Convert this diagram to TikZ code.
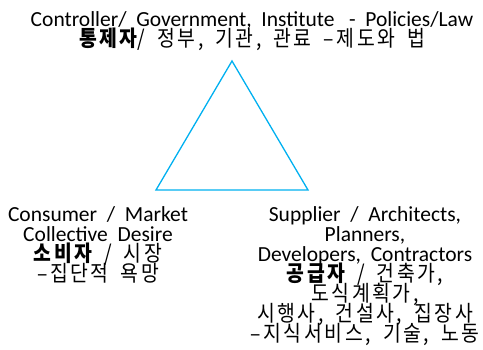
\documentclass[tikz,border=0pt]{standalone}
\usepackage{fontspec}
\setmainfont{Carlito}
\newfontfamily\kr[FakeStretch=0.88, LetterSpace=12, WordSpace=1.7]{Noto Sans CJK KR}
\definecolor{tricol}{RGB}{0,176,240}
\newcommand{\krline}{\kr\fontsize{22}{20}\selectfont}
\tikzset{
  lbl/.style={align=center, inner sep=0pt, anchor=north,
    font={\fontsize{21.5}{20}\selectfont\lineskiplimit=-30pt}},
  tri/.style={draw=tricol, line width=1.3pt, line join=miter}
}
\begin{document}
\begin{tikzpicture}[x=1pt,y=-1pt]
\useasboundingbox (0,0) rectangle (483,349);
\coordinate (T) at (232,61);
\coordinate (L) at (156,190);
\coordinate (R) at (308,190);
\draw[tri] (T) -- (L) -- (R) -- cycle;
\node[lbl] (top) at (252,11) {Controller/\ \ Government,\ \ Institute\ \ \ -\ \ Policies/Law\\
  {\krline{\bfseries 통제자}/ 정부, 기관, 관료 –제도와 법}};
\node[lbl] (cons) at (98,206) {Consumer\ \ /\ \ Market\\
  Collective\ \ Desire\\
  {\krline{\bfseries 소비자} / 시장}\\
  {\krline –집단적 욕망}};
\node[lbl] (supp) at (365,206) {Supplier\ \ /\ \ Architects,\\
  Planners,\\
  Developers,\ \ Contractors\\
  {\krline{\bfseries 공급자} / 건축가,}\\
  {\krline 도식계획가,}\\
  {\krline 시행사, 건설사, 집장사}\\
  {\krline –지식서비스, 기술, 노동}};
\end{tikzpicture}
\end{document}
